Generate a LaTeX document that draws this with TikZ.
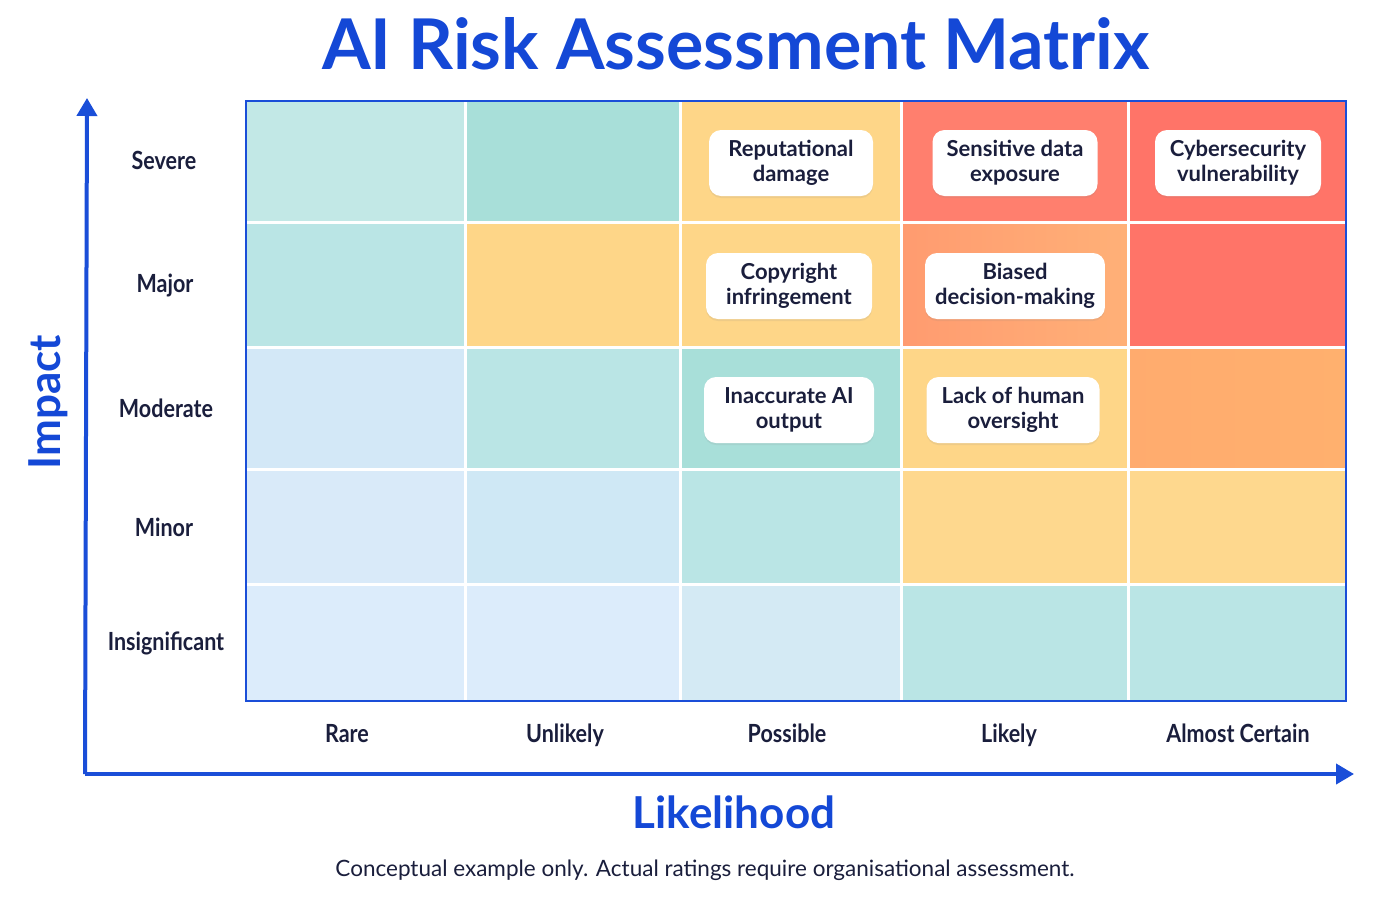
\documentclass[tikz,border=0pt]{standalone}
\usepackage{fontspec}
\setmainfont{Lato}
\newfontfamily\condfont{Lato}[FakeStretch=0.86]
\usetikzlibrary{arrows.meta,shadows}
\definecolor{axisblue}{HTML}{1A4ED8}
\definecolor{titleblue}{HTML}{1448D6}
\definecolor{navy}{HTML}{1A1E3C}
\definecolor{tA}{HTML}{C2E8E6}
\definecolor{tB}{HTML}{A8DFD9}
\definecolor{tC}{HTML}{BAE5E5}
\definecolor{yl}{HTML}{FED688}
\definecolor{rdA}{HTML}{FF7F6E}
\definecolor{rdB}{HTML}{FF7468}
\definecolor{orA}{HTML}{FFA070}
\definecolor{orB}{HTML}{FFB06E}
\definecolor{bA}{HTML}{D3E8F7}
\definecolor{bB}{HTML}{D9EAF9}
\definecolor{bC}{HTML}{CFE8F5}
\definecolor{bD}{HTML}{DCECFB}
\definecolor{bE}{HTML}{D4EAF4}
\tikzset{
  cellgrid/.style={draw=white,line width=3pt},
  riskbox/.style={fill=white,rounded corners=12pt,minimum height=66pt,align=center,
     font=\bfseries\fontsize{22}{25}\selectfont,text=navy,inner xsep=10pt,
     drop shadow={opacity=0.12,shadow xshift=0pt,shadow yshift=-2pt}},
  rowlab/.style={font=\condfont\bfseries\fontsize{25}{30}\selectfont,text=navy,
     text height=18pt,text depth=6pt,yshift=-3pt},
  axisline/.style={draw=axisblue,line width=4pt,-{Triangle[length=18pt,width=20pt]}},
  axtitle/.style={font=\bfseries\fontsize{44}{52}\selectfont,text=titleblue}
}
\begin{document}
\begin{tikzpicture}[x=1pt,y=-1pt]
\useasboundingbox (0,0) rectangle (1400,900);
\fill[white] (0,0) rectangle (1400,900);
% title
\node[font=\bfseries\fontsize{70}{76}\selectfont,text=titleblue] (title) at (736,44) {AI Risk Assessment Matrix};
% cells: columns 246,465,680,901,1128,1346 ; rows 101,222,347,469,584,701
\def\cell#1#2#3#4#5{\fill[#5] (#1,#3) rectangle (#2,#4);}
% Severe
\cell{246}{465}{101}{222}{tA}
\cell{465}{680}{101}{222}{tB}
\cell{680}{901}{101}{222}{yl}
\cell{901}{1128}{101}{222}{rdA}
\cell{1128}{1346}{101}{222}{rdB}
% Major
\cell{246}{465}{222}{347}{tC}
\cell{465}{680}{222}{347}{yl}
\cell{680}{901}{222}{347}{yl}
\shade[left color=orA!85!rdA,right color=orA!70!yl] (901,222) rectangle (1128,347);
\cell{1128}{1346}{222}{347}{rdB}
% Moderate
\cell{246}{465}{347}{469}{bA}
\cell{465}{680}{347}{469}{tC}
\cell{680}{901}{347}{469}{tB}
\cell{901}{1128}{347}{469}{yl}
\shade[left color=orB!90!rdA,right color=orB] (1128,347) rectangle (1346,469);
% Minor
\cell{246}{465}{469}{584}{bB}
\cell{465}{680}{469}{584}{bC}
\cell{680}{901}{469}{584}{tC}
\cell{901}{1128}{469}{584}{yl!95!white}
\cell{1128}{1346}{469}{584}{yl!95!white}
% Insignificant
\cell{246}{465}{584}{701}{bD}
\cell{465}{680}{584}{701}{bD}
\cell{680}{901}{584}{701}{bE}
\cell{901}{1128}{584}{701}{tC}
\cell{1128}{1346}{584}{701}{tC}
% grid lines
\foreach \gx in {465,680,901,1128} \draw[cellgrid] (\gx,101) -- (\gx,701);
\foreach \gy in {222,347,469,584} \draw[cellgrid] (246,\gy) -- (1346,\gy);
\draw[axisblue,line width=2.5pt] (246,101) rectangle (1346,701);
% risk boxes
\node[riskbox,minimum width=164pt] (rep) at (791,163) {Reputational\\damage};
\node[riskbox,minimum width=165pt] (sens) at (1015,163) {Sensitive data\\exposure};
\node[riskbox,minimum width=166pt] (cyber) at (1238,163) {Cybersecurity\\vulnerability};
\node[riskbox,minimum width=166pt] (copy) at (789,286) {Copyright\\infringement};
\node[riskbox,minimum width=178pt] (bias) at (1015,286) {Biased\\decision-making};
\node[riskbox,minimum width=170pt] (inacc) at (789,410) {Inaccurate AI\\output};
\node[riskbox,minimum width=173pt] (lack) at (1013,410) {Lack of human\\oversight};
% row labels
\node[rowlab] (rsev) at (164,160) {Severe};
\node[rowlab] (rmaj) at (165,283) {Major};
\node[rowlab] (rmod) at (166,408) {Moderate};
\node[rowlab] (rmin) at (164,527) {Minor};
\node[rowlab] (rins) at (166,641) {Insignificant};
% column labels
\node[rowlab] (crare) at (347,733) {Rare};
\node[rowlab] (cunl) at (565,733) {Unlikely};
\node[rowlab] (cpos) at (787,733) {Possible};
\node[rowlab] (clik) at (1009,733) {Likely};
\node[rowlab] (calm) at (1238,733) {Almost Certain};
% axes
\coordinate (origin) at (87,774);
\coordinate (ytip) at (87,98);
\coordinate (xtip) at (1354,774);
\draw[axisline] ([xshift=-2pt]origin) -- (ytip);
\draw[axisline] ([xshift=-2pt]origin) -- (xtip);
\node[axtitle,rotate=90] (impact) at (48,402) {Impact};
\node[axtitle] (likelihood) at (734,812) {Likelihood};
% footer
\node[font=\fontsize{22.5}{26}\selectfont,text=navy] (foot) at (705,870) {Conceptual example only. Actual ratings require organisational assessment.};
\end{tikzpicture}
\end{document}
